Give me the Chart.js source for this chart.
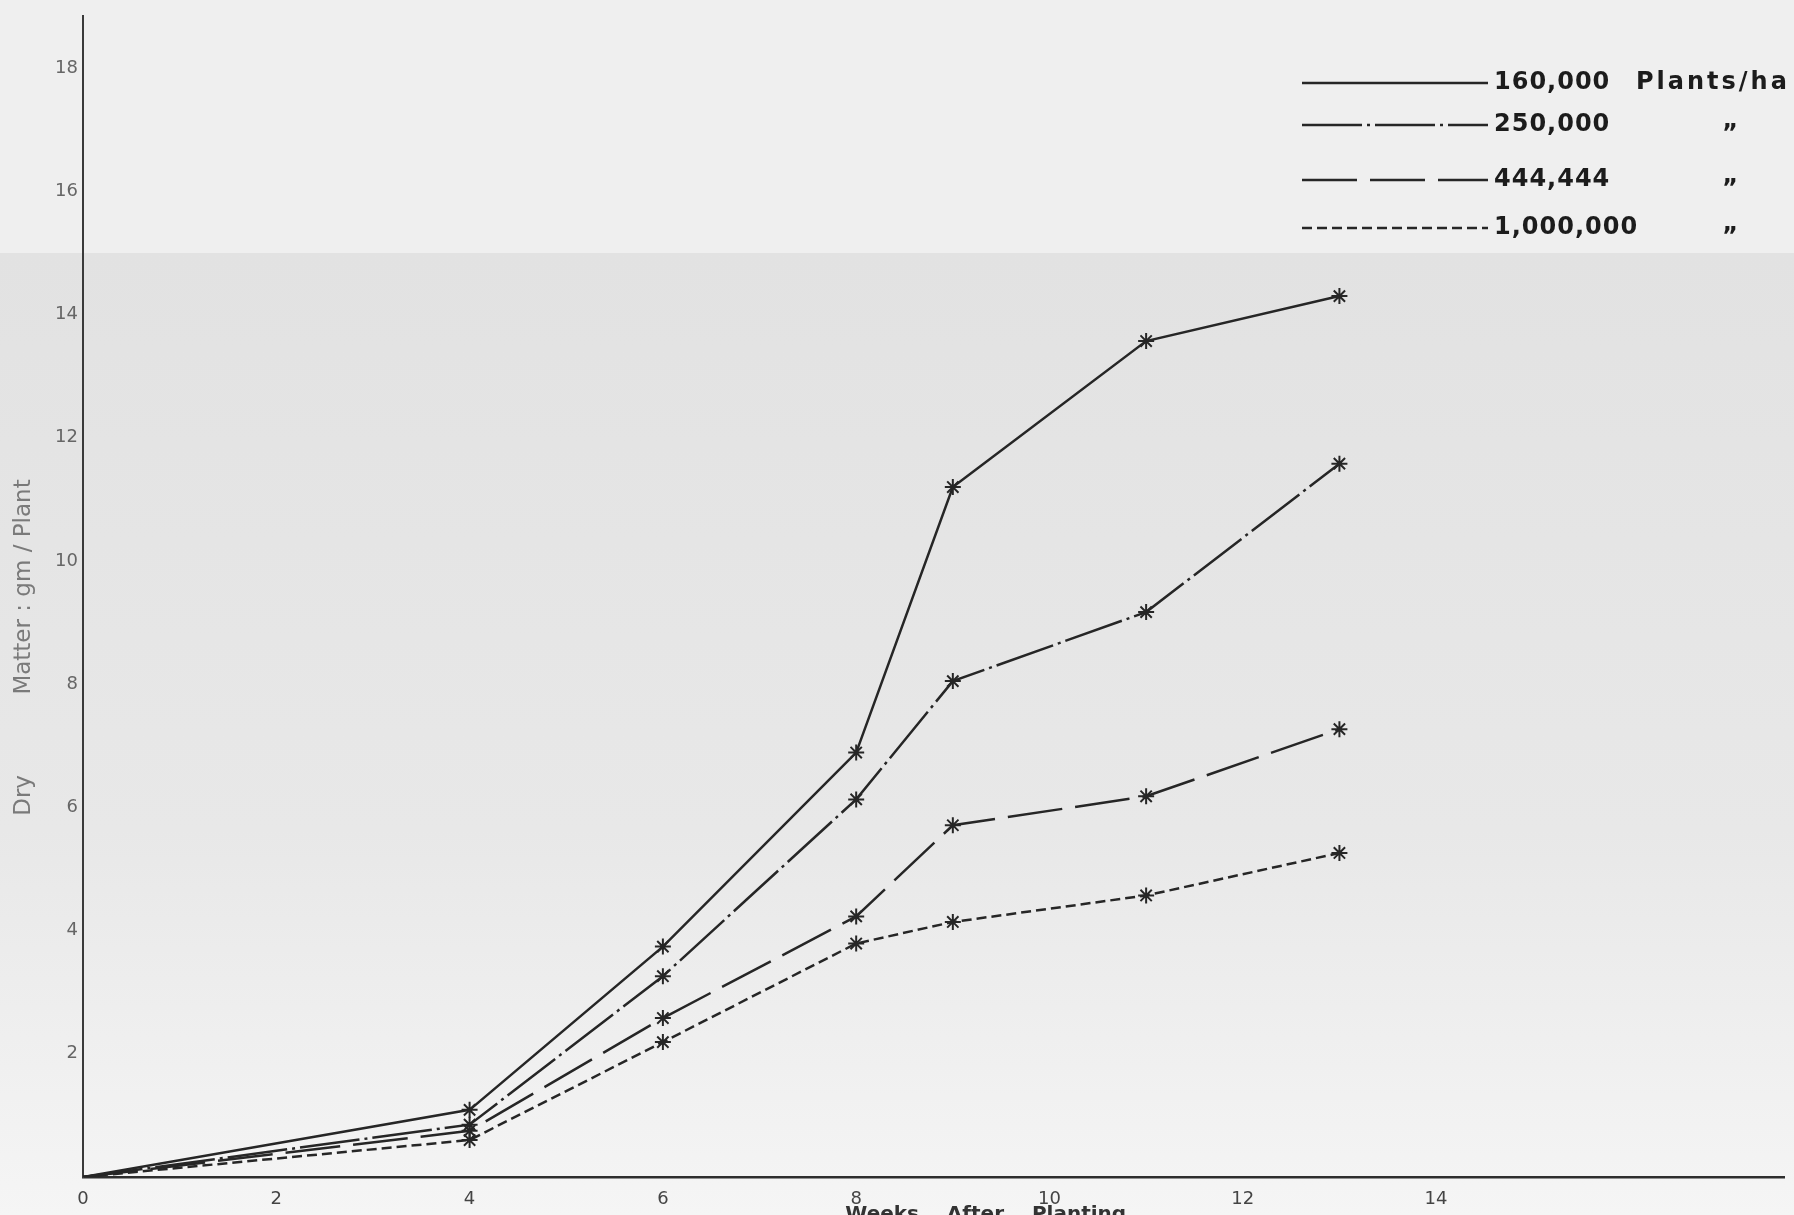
<!DOCTYPE html>
<html>
<head>
<meta charset="utf-8">
<script src="https://cdn.jsdelivr.net/npm/chart.js@4.4.1/dist/chart.umd.min.js"></script>
<style>
  html, body { margin: 0; padding: 0; background: #eeeeee; overflow: hidden; }
  canvas { display: block; }
</style>
</head>
<body>
<canvas id="dryMatterChart" width="1794" height="1215"></canvas>
<script>
// weeks after planting at which plants were sampled
const weeks = [0, 4, 6, 8, 9, 11, 13];

// plant densities (plants/ha)
const densities = ['160,000', '250,000', '444,444', '1,000,000'];

// dry matter, g / plant
const dm160 = [0, 1.09, 3.74, 6.89, 11.2, 13.57, 14.3];
const dm250 = [0, 0.85, 3.26, 6.13, 8.05, 9.17, 11.58];
const dm444 = [0, 0.75, 2.58, 4.23, 5.71, 6.18, 7.27];
const dm1000 = [0, 0.6, 2.19, 3.79, 4.14, 4.57, 5.26];

const xTickLabels = [0, 2, 4, 6, 8, 10, 12, 14];
const yTickLabels = [2, 4, 6, 8, 10, 12, 14, 16, 18];

const ink = '#262626';

function points(values) {
    return weeks.map((w, i) => ({ x: w, y: values[i] }));
}

function series(label, values, dash) {
    return {
        label: label,
        data: points(values),
        borderColor: ink,
        borderWidth: 2.5,
        borderDash: dash,
        fill: false,
        tension: 0,
        pointStyle: 'star',
        pointRadius: ctx => ctx.dataIndex === 0 ? 0 : 8,
        pointBorderColor: ink,
        pointBorderWidth: 2,
        pointBackgroundColor: ink
    };
}

// paper background: lighter strip at the top, greyer below
const paper = {
    id: 'paper',
    beforeDraw(chart) {
        const ctx = chart.ctx;
        ctx.save();
        ctx.fillStyle = '#efefef';
        ctx.fillRect(0, 0, chart.width, chart.height);
        const g = ctx.createLinearGradient(0, 253, 0, chart.height);
        g.addColorStop(0, '#e2e2e2');
        g.addColorStop(0.6, '#e8e8e8');
        g.addColorStop(1, '#f5f5f5');
        ctx.fillStyle = g;
        ctx.fillRect(0, 253, chart.width, chart.height - 253);
        ctx.restore();
    }
};

// hand-lettered key in the top right corner
const key = {
    id: 'key',
    afterDraw(chart) {
        const ctx = chart.ctx;
        const rows = [83, 125, 180, 228];
        ctx.save();
        ctx.fillStyle = '#1c1c1c';
        ctx.font = 'bold 24px "DejaVu Sans"';
        ctx.textBaseline = 'middle';
        chart.data.datasets.forEach((ds, i) => {
            const y = rows[i];
            ctx.strokeStyle = ds.borderColor;
            ctx.lineWidth = ds.borderWidth;
            ctx.setLineDash(ds.borderDash || []);
            ctx.beginPath();
            ctx.moveTo(1302, y);
            ctx.lineTo(1488, y);
            ctx.stroke();
            ctx.setLineDash([]);
            ctx.letterSpacing = '1px';
            ctx.fillText(ds.label, 1494, y);
            if (i === 0) {
                ctx.letterSpacing = '3px';
                ctx.fillText('Plants/ha', 1636, y);
            } else {
                ctx.fillText('\u201D', 1722, y + 10);
            }
        });
        ctx.restore();
    }
};

const chartCtx = document.getElementById('dryMatterChart').getContext('2d');
new Chart(chartCtx, {
    type: 'line',
    data: {
        datasets: [
            series(densities[0], dm160, []),
            series(densities[1], dm250, [60, 5, 3, 5]),
            series(densities[2], dm444, [55, 13]),
            series(densities[3], dm1000, [10, 5])
        ]
    },
    options: {
        responsive: false,
        animation: false,
        devicePixelRatio: 1,
        layout: { padding: { top: 10, right: 0, bottom: 0, left: 0 } },
        scales: {
            x: {
                type: 'linear',
                min: 0,
                max: 17.6,
                afterFit: scale => { scale.height = 38; },
                grid: { display: false, drawTicks: false },
                border: { display: true, color: '#2e2e2e', width: 2.5 },
                ticks: {
                    stepSize: 2,
                    includeBounds: false,
                    padding: 12,
                    color: '#444',
                    font: { family: 'DejaVu Sans', size: 18 },
                    callback: v => xTickLabels.includes(v) ? String(v) : ''
                },
                title: {
                    display: true,
                    text: '               Weeks    After    Planting',
                    color: '#333',
                    font: { family: 'DejaVu Sans', size: 20, weight: 'bold' },
                    padding: { top: 0, bottom: -12 }
                }
            },
            y: {
                min: 0,
                max: 18.85,
                afterFit: scale => { scale.width = 83; },
                grid: { display: false, drawTicks: false },
                border: { display: true, color: '#3a3a3a', width: 2 },
                ticks: {
                    stepSize: 2,
                    includeBounds: false,
                    padding: 5,
                    color: '#666',
                    font: { family: 'DejaVu Sans', size: 18 },
                    callback: v => yTickLabels.includes(v) ? String(v) : ''
                },
                title: {
                    display: true,
                    text: 'Dry           Matter : gm / Plant              ',
                    color: '#7a7a7a',
                    font: { family: 'DejaVu Sans', size: 23 },
                    padding: { top: 10, bottom: 0 }
                }
            }
        },
        plugins: {
            legend: { display: false },
            tooltip: { enabled: false }
        }
    },
    plugins: [paper, key]
});
</script>
</body>
</html>
